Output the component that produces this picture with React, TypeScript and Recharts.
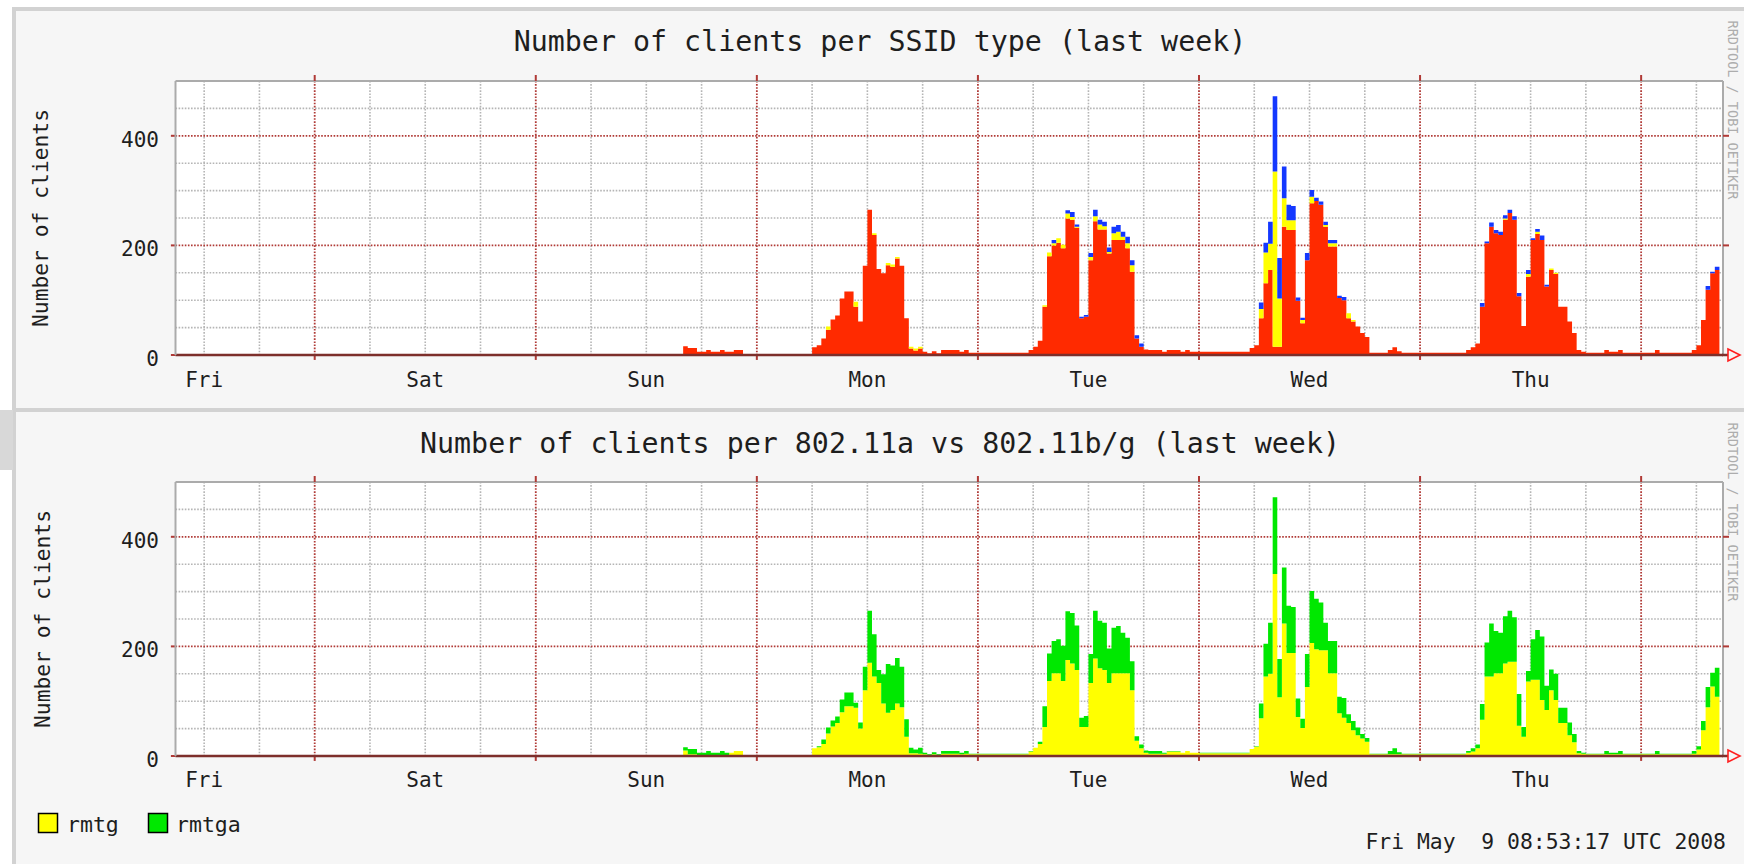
import React from 'react';
import { AreaChart, Area, XAxis, YAxis, CartesianGrid, ReferenceLine } from 'recharts';

const MONO = '"DejaVu Sans Mono", monospace';

// time axis in hours from Sun 4 May 2008 00:00 UTC
const rangeStart = -39.112; // Fri May 2 08:53:17
const rangeEnd = 128.888; // Fri May 9 08:53:17
const firstSample = 16; // first sample Sun 16:00, one sample per 30 min
const stepHours = 0.5;

const dayLabels = ['Fri', 'Sat', 'Sun', 'Mon', 'Tue', 'Wed', 'Thu'];
const dayLabelHours = [-36, -12, 12, 36, 60, 84, 108];
const midnightHours = [-24, 0, 24, 48, 72, 96, 120];
const sixHourMarks = [-36, -30, -18, -12, -6, 6, 12, 18, 30, 36, 42, 54, 60, 66, 78, 84, 90, 102, 108, 114, 126];
const yTicks = [0, 200, 400];
const yMajor = [200, 400];
const yMinor = [50, 100, 150, 250, 300, 350, 450];

// clients per SSID type, 30 min samples from Sun 16:00 (rows = 6 hours)
const ssidRed = [
  16, 13, 13, 6,
  6, 9, 6, 6, 9, 6, 6, 9, 9, 0, 0, 0,
  0, 0, 0, 0, 0, 0, 0, 0, 0, 0, 0, 0,
  14, 18, 30, 46, 65, 72, 103, 116, 116, 88, 61, 163,
  265, 219, 157, 149, 164, 161, 176, 163, 67, 12, 8, 12,
  6, 3, 7, 3, 9, 9, 9, 9, 6, 9, 4, 4,
  4, 4, 4, 4, 4, 4, 4, 4, 4, 4, 4, 9,
  15, 26, 88, 180, 200, 205, 195, 249, 247, 232, 67, 70,
  173, 244, 229, 229, 185, 210, 210, 210, 195, 152, 30, 15,
  10, 9, 9, 9, 6, 9, 9, 9, 6, 9, 6, 6,
  6, 6, 6, 6, 6, 6, 6, 6, 6, 6, 6, 13,
  18, 67, 131, 155, 15, 15, 234, 228, 228, 99, 58, 173,
  277, 281, 274, 234, 198, 198, 104, 100, 67, 61, 52, 40,
  33, 4, 4, 4, 4, 9, 14, 7, 4, 4, 4, 4,
  4, 4, 4, 4, 4, 4, 4, 4, 4, 4, 9, 14,
  21, 88, 204, 234, 222, 219, 247, 259, 247, 107, 53, 143,
  210, 221, 210, 125, 155, 148, 88, 88, 61, 40, 9, 6,
  4, 4, 4, 4, 9, 6, 6, 9, 4, 4, 4, 4,
  4, 4, 4, 9, 4, 4, 4, 4, 4, 4, 4, 9,
  18, 64, 119, 149, 155,
];
const ssidYellow = [
  0, 0, 0, 0,
  0, 0, 0, 0, 0, 0, 0, 0, 0, 0, 0, 0,
  0, 0, 0, 0, 0, 0, 0, 0, 0, 0, 0, 0,
  0, 0, 0, 6, 0, 0, 0, 0, 0, 9, 0, 0,
  0, 3, 0, 0, 4, 4, 3, 0, 0, 3, 4, 3,
  0, 0, 0, 0, 0, 0, 0, 0, 0, 0, 0, 0,
  0, 0, 0, 0, 0, 0, 0, 0, 0, 0, 0, 0,
  0, 0, 3, 7, 4, 8, 6, 9, 5, 2, 0, 0,
  6, 9, 9, 6, 3, 12, 15, 6, 9, 12, 0, 0,
  0, 0, 0, 0, 0, 0, 0, 0, 0, 0, 0, 0,
  0, 0, 0, 0, 0, 0, 0, 0, 0, 0, 0, 0,
  0, 17, 56, 48, 320, 88, 52, 18, 18, 0, 6, 0,
  12, 0, 0, 3, 6, 6, 0, 0, 9, 3, 0, 0,
  0, 0, 0, 0, 0, 0, 0, 0, 0, 0, 0, 0,
  0, 0, 0, 0, 0, 0, 0, 0, 0, 0, 0, 0,
  0, 0, 0, 0, 0, 0, 2, 0, 0, 0, 0, 5,
  0, 4, 0, 0, 3, 2, 0, 0, 0, 0, 0, 0,
  0, 0, 0, 0, 0, 0, 0, 0, 0, 0, 0, 0,
  0, 0, 0, 0, 0, 0, 0, 0, 0, 0, 0, 0,
  0, 0, 0, 0, 0,
];
const ssidBlue = [
  0, 0, 0, 0,
  0, 0, 0, 0, 0, 0, 0, 0, 0, 0, 0, 0,
  0, 0, 0, 0, 0, 0, 0, 0, 0, 0, 0, 0,
  0, 0, 0, 0, 0, 0, 0, 0, 0, 0, 0, 0,
  0, 0, 0, 0, 0, 0, 0, 0, 0, 0, 0, 0,
  0, 0, 0, 0, 0, 0, 0, 0, 0, 0, 0, 0,
  0, 0, 0, 0, 0, 0, 0, 0, 0, 0, 0, 0,
  0, 0, 0, 0, 6, 0, 0, 6, 9, 4, 3, 3,
  7, 12, 9, 8, 8, 12, 12, 9, 12, 9, 6, 6,
  0, 0, 0, 0, 0, 0, 0, 0, 0, 0, 0, 0,
  0, 0, 0, 0, 0, 0, 0, 0, 0, 0, 0, 0,
  0, 12, 18, 40, 137, 74, 58, 28, 26, 6, 4, 13,
  12, 6, 6, 6, 6, 6, 4, 6, 0, 0, 0, 0,
  0, 0, 0, 0, 0, 0, 0, 0, 0, 0, 0, 0,
  0, 0, 0, 0, 0, 0, 0, 0, 0, 0, 0, 0,
  0, 7, 3, 8, 6, 6, 6, 6, 6, 6, 0, 7,
  3, 5, 8, 3, 0, 0, 0, 0, 0, 0, 0, 0,
  0, 0, 0, 0, 0, 0, 0, 0, 0, 0, 0, 0,
  0, 0, 0, 0, 0, 0, 0, 0, 0, 0, 0, 0,
  0, 0, 7, 3, 6,
];

// clients per band, same samples
const rmtg = [
  10, 3, 3, 2,
  2, 2, 2, 2, 2, 2, 6, 9, 9, 0, 0, 0,
  0, 0, 0, 0, 0, 0, 0, 0, 0, 0, 0, 0,
  14, 16, 22, 41, 54, 60, 80, 91, 91, 88, 50, 120,
  170, 145, 133, 96, 79, 84, 96, 89, 35, 5, 5, 4,
  3, 2, 3, 2, 4, 4, 4, 4, 3, 4, 3, 3,
  3, 3, 3, 3, 3, 3, 3, 3, 3, 3, 3, 8,
  15, 22, 53, 137, 151, 151, 137, 175, 169, 157, 53, 53,
  133, 178, 160, 157, 133, 151, 151, 151, 151, 120, 28, 14,
  6, 4, 4, 4, 4, 8, 8, 8, 6, 9, 6, 6,
  5, 5, 5, 5, 5, 5, 5, 5, 5, 5, 5, 13,
  17, 69, 145, 150, 332, 107, 242, 188, 188, 71, 51, 126,
  206, 195, 193, 193, 151, 151, 78, 70, 60, 47, 38, 32,
  26, 3, 3, 3, 3, 3, 3, 3, 3, 3, 3, 3,
  3, 3, 3, 3, 3, 3, 3, 3, 3, 3, 6, 8,
  14, 66, 145, 145, 151, 151, 169, 172, 172, 55, 35, 136,
  139, 139, 102, 84, 120, 102, 60, 60, 38, 25, 5, 4,
  3, 3, 3, 3, 3, 3, 3, 3, 3, 3, 3, 3,
  3, 3, 3, 3, 3, 3, 3, 3, 3, 3, 3, 4,
  12, 47, 89, 127, 108,
];
const rmtga = [
  6, 10, 10, 4,
  4, 7, 4, 4, 7, 4, 0, 0, 0, 0, 0, 0,
  0, 0, 0, 0, 0, 0, 0, 0, 0, 0, 0, 0,
  0, 2, 8, 11, 11, 12, 23, 25, 25, 9, 11, 43,
  95, 77, 24, 53, 89, 81, 83, 74, 32, 10, 7, 11,
  3, 1, 4, 1, 5, 5, 5, 5, 3, 5, 1, 1,
  1, 1, 1, 1, 1, 1, 1, 1, 1, 1, 1, 1,
  0, 4, 38, 50, 59, 62, 64, 89, 92, 81, 17, 20,
  53, 87, 87, 86, 63, 83, 86, 74, 65, 53, 8, 7,
  4, 5, 5, 5, 2, 1, 1, 1, 0, 0, 0, 0,
  1, 1, 1, 1, 1, 1, 1, 1, 1, 1, 1, 0,
  1, 27, 60, 93, 140, 70, 102, 86, 84, 34, 17, 60,
  95, 92, 87, 50, 59, 59, 30, 36, 16, 17, 14, 8,
  7, 1, 1, 1, 1, 6, 11, 4, 1, 1, 1, 1,
  1, 1, 1, 1, 1, 1, 1, 1, 1, 1, 3, 6,
  7, 29, 62, 97, 77, 74, 86, 93, 81, 58, 18, 19,
  74, 91, 116, 44, 38, 48, 28, 28, 23, 15, 4, 2,
  1, 1, 1, 1, 6, 3, 3, 6, 1, 1, 1, 1,
  1, 1, 1, 6, 1, 1, 1, 1, 1, 1, 1, 5,
  6, 17, 37, 25, 53,
];

const ssidRows: any[] = ssidRed.map((v, i) => ({
  t: firstSample + i * stepHours, red: v, yellow: ssidYellow[i], blue: ssidBlue[i],
}));
// closing row so the last 30 min step gets its width
ssidRows.push({ ...ssidRows[ssidRows.length - 1], t: firstSample + ssidRed.length * stepHours });

const bandRows: any[] = rmtg.map((v, i) => ({ t: firstSample + i * stepHours, rmtg: v, rmtga: rmtga[i] }));
bandRows.push({ ...bandRows[bandRows.length - 1], t: firstSample + rmtg.length * stepHours });

const W = 1744;
const AXIS = '#7d2f2b';
const FRAME = '#ababab';
const MAJOR = '#b03a36';

const xGen = (hours: number[]) => (props: any) => {
  const { xAxis, offset } = props;
  return hours.map((h) =>
    xAxis && typeof xAxis.scale === 'function'
      ? xAxis.scale(h)
      : offset.left + ((h - rangeStart) / (rangeEnd - rangeStart)) * offset.width,
  );
};
const yGen = (vals: number[]) => (props: any) => {
  const { yAxis, offset } = props;
  return vals.map((v) =>
    yAxis && typeof yAxis.scale === 'function' ? yAxis.scale(v) : offset.top + offset.height * (1 - v / 500),
  );
};

function RrdChart({ data, areas, marginTop }: { data: any[]; areas: { key: string; color: string }[]; marginTop: number }) {
  const height = 410;
  return (
    <AreaChart width={W} height={height} data={data} margin={{ top: marginTop, right: 21, bottom: 55 - 30 - (marginTop - 81), left: 115.5 }}>
      <CartesianGrid
        fill="#ffffff"
        stroke="#b5b5b5"
        strokeWidth={1.6}
        strokeDasharray="1.6 1.5"
        verticalCoordinatesGenerator={xGen(sixHourMarks)}
        horizontalCoordinatesGenerator={yGen(yMinor)}
      />
      <CartesianGrid
        fill="none"
        stroke={MAJOR}
        strokeWidth={1.8}
        strokeDasharray="1.6 1.5"
        verticalCoordinatesGenerator={xGen(midnightHours)}
        horizontalCoordinatesGenerator={yGen(yMajor)}
      />
      <XAxis
        type="number"
        dataKey="t"
        domain={[rangeStart, rangeEnd]}
        allowDataOverflow
        ticks={dayLabelHours}
        interval={0}
        height={30}
        tickLine={false}
        axisLine={{ stroke: AXIS, strokeWidth: 2.5 }}
        tick={(p: any) => (
          <text x={p.x} y={387} textAnchor="middle" fontFamily={MONO} fontSize={21} fill="#1e1e1e">
            {dayLabels[dayLabelHours.indexOf(p.payload.value)]}
          </text>
        )}
      />
      <YAxis
        type="number"
        domain={[0, 500]}
        allowDataOverflow
        ticks={yTicks}
        interval={0}
        width={60}
        tickLine={false}
        axisLine={{ stroke: FRAME, strokeWidth: 2 }}
        tick={(p: any) => (
          <text x={159} y={p.y + 11} textAnchor="end" fontFamily={MONO} fontSize={21} fill="#1e1e1e">
            {p.payload.value}
          </text>
        )}
      />
      {areas.map((a) => (
        <Area
          key={a.key}
          type="stepAfter"
          dataKey={a.key}
          stackId="s"
          stroke="none"
          fill={a.color}
          fillOpacity={1}
          dot={false}
          activeDot={false}
          isAnimationActive={false}
        />
      ))}
      <ReferenceLine y={500} stroke={FRAME} strokeWidth={2} />
      <ReferenceLine x={rangeEnd} stroke={FRAME} strokeWidth={2} />
      {midnightHours.map((h) => (
        <ReferenceLine key={'tt' + h} segment={[{ x: h, y: 500 }, { x: h, y: 511 }]} ifOverflow="visible" stroke={MAJOR} strokeWidth={2} />
      ))}
      {midnightHours.map((h) => (
        <ReferenceLine key={'tb' + h} segment={[{ x: h, y: 0 }, { x: h, y: -9 }]} ifOverflow="visible" stroke={MAJOR} strokeWidth={2} />
      ))}
      {[0, ...yMajor].map((v) => (
        <ReferenceLine key={'tl' + v} segment={[{ x: rangeStart - 0.5, y: v }, { x: rangeStart, y: v }]} ifOverflow="visible" stroke={MAJOR} strokeWidth={2} />
      ))}
      {yMajor.map((v) => (
        <ReferenceLine key={'tr' + v} segment={[{ x: rangeEnd, y: v }, { x: rangeEnd + 0.65, y: v }]} ifOverflow="visible" stroke={MAJOR} strokeWidth={2} />
      ))}
    </AreaChart>
  );
}

const ssidAreas = [
  { key: 'red', color: '#ff2a00' },
  { key: 'yellow', color: '#ffff00' },
  { key: 'blue', color: '#1438ff' },
];
const bandAreas = [
  { key: 'rmtg', color: '#ffff00' },
  { key: 'rmtga', color: '#00e800' },
];

function Arrow({ y }: { y: number }) {
  return (
    <g>
      <line x1={1722} y1={y} x2={1728} y2={y} stroke={AXIS} strokeWidth={2.5} />
      <polygon points={`1728,${y - 6} 1740,${y} 1728,${y + 6}`} fill="none" stroke="#ff2020" strokeWidth={1.6} />
    </g>
  );
}

export default function App() {
  const txt = { fontFamily: MONO, fill: '#1e1e1e' } as const;
  return (
    <div style={{ position: 'fixed', left: 0, top: 0, width: W, height: 864, background: '#ffffff', overflow: 'hidden' }}>
      <div style={{ position: 'absolute', left: 12, top: 7, width: 1760, height: 402, background: '#f6f6f6', borderTop: '4px solid #d2d2d2', borderLeft: '4px solid #d2d2d2', boxSizing: 'border-box' }} />
      <div style={{ position: 'absolute', left: 12, top: 408, width: 1760, height: 470, background: '#f6f6f6', borderTop: '4px solid #d2d2d2', borderLeft: '4px solid #d2d2d2', boxSizing: 'border-box' }} />
      <div style={{ position: 'absolute', left: 0, top: 410, width: 13, height: 60, background: '#d8d8d8' }} />

      <div style={{ position: 'absolute', left: 0, top: 0 }}>
        <RrdChart data={ssidRows} areas={ssidAreas} marginTop={81} />
      </div>
      <div style={{ position: 'absolute', left: 0, top: 400 }}>
        <RrdChart data={bandRows} areas={bandAreas} marginTop={82} />
      </div>

      <svg width={W} height={864} style={{ position: 'absolute', left: 0, top: 0, pointerEvents: 'none' }}>
        <text x={880} y={51} textAnchor="middle" fontSize={28.3} {...txt}>
          Number of clients per SSID type (last week)
        </text>
        <text x={880} y={453} textAnchor="middle" fontSize={28.3} {...txt}>
          Number of clients per 802.11a vs 802.11b/g (last week)
        </text>
        <text x={48} y={218} textAnchor="middle" fontSize={21.3} transform="rotate(-90 48 218)" {...txt}>
          Number of clients
        </text>
        <text x={50} y={619} textAnchor="middle" fontSize={21.3} transform="rotate(-90 50 619)" {...txt}>
          Number of clients
        </text>
        <text x={1728} y={110} textAnchor="middle" fontSize={13.5} fontFamily={MONO} fill="#adadad" transform="rotate(90 1728 110)">
          RRDTOOL / TOBI OETIKER
        </text>
        <text x={1728} y={512} textAnchor="middle" fontSize={13.5} fontFamily={MONO} fill="#adadad" transform="rotate(90 1728 512)">
          RRDTOOL / TOBI OETIKER
        </text>
        <Arrow y={355} />
        <Arrow y={756} />
        <rect x={38.5} y={813.5} width={19} height={19} fill="#ffff00" stroke="#000" strokeWidth={1.5} />
        <text x={67} y={832} fontSize={21.5} {...txt}>rmtg</text>
        <rect x={148.5} y={813.5} width={19} height={19} fill="#00e800" stroke="#000" strokeWidth={1.5} />
        <text x={176} y={832} fontSize={21.5} {...txt}>rmtga</text>
        <text x={1726} y={849} textAnchor="end" fontSize={21.4} style={{ whiteSpace: 'pre' }} {...txt}>
          {'Fri May  9 08:53:17 UTC 2008'}
        </text>
      </svg>
    </div>
  );
}
